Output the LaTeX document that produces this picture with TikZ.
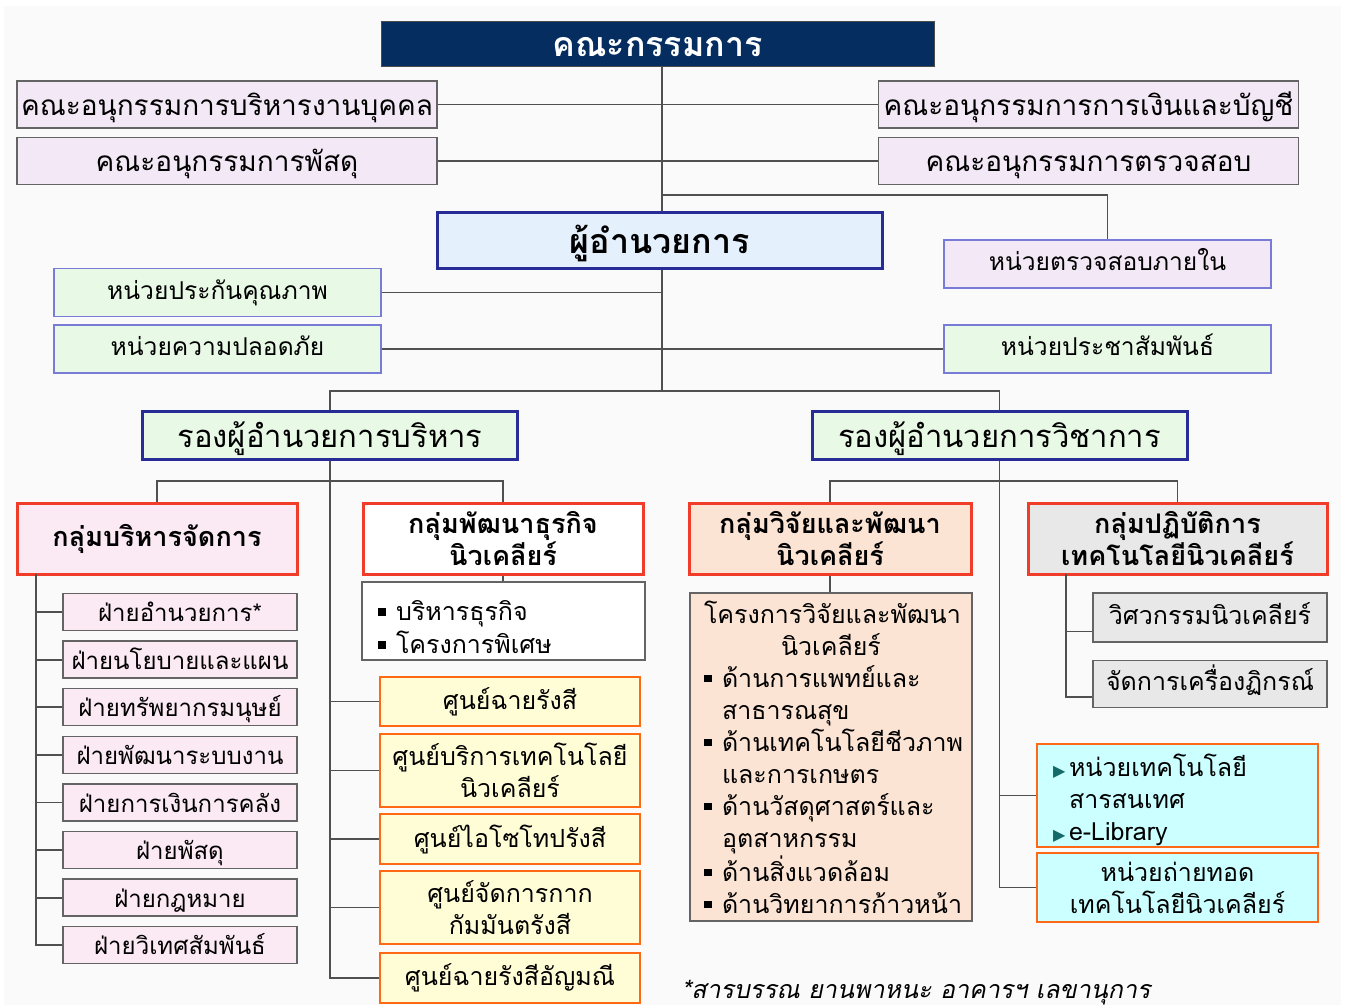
\documentclass[tikz,border=0pt]{standalone}
\usepackage{fontspec}
\setmainfont{Loma}[Script=Thai]
\newfontfamily\symfont{DejaVu Sans}
\newfontfamily\slantfont{Loma}[Script=Thai, FakeSlant=0.2]
\usepackage{tikz}
\usetikzlibrary{positioning}

\definecolor{navy}{RGB}{6,45,96}
\definecolor{panel}{RGB}{250,250,250}
\definecolor{linegray}{RGB}{80,80,80}
\definecolor{boxgray}{RGB}{100,100,100}
\definecolor{lavender}{RGB}{243,232,246}
\definecolor{skyfill}{RGB}{228,240,251}
\definecolor{depblue}{RGB}{40,44,150}
\definecolor{unitblue}{RGB}{120,124,214}
\definecolor{mint}{RGB}{232,249,230}
\definecolor{grpred}{RGB}{240,60,40}
\definecolor{pinkfill}{RGB}{251,233,243}
\definecolor{peach}{RGB}{252,228,212}
\definecolor{opsgray}{RGB}{232,232,232}
\definecolor{yellowfill}{RGB}{255,253,214}
\definecolor{orangeline}{RGB}{255,104,20}
\definecolor{cyanfill}{RGB}{204,255,255}
\definecolor{tealarrow}{RGB}{20,105,105}

\newcommand{\sqbullet}{\rule[.2em]{.3em}{.3em}}
\newcommand{\tribullet}{{\symfont\color{tealarrow}\fontsize{8}{8}\selectfont ▶}}
\newcommand{\bitem}[1]{\par\noindent\hangindent=9pt\hangafter=1\makebox[9pt][l]{\sqbullet}#1\par}
\newcommand{\titem}[1]{\par\noindent\hangindent=8pt\hangafter=1\makebox[8pt][l]{\tribullet}#1\par}

\begin{document}
\begin{tikzpicture}[x=0.5pt, y=-0.5pt,
  conn/.style={draw=linegray, line width=0.9pt},
  comm/.style={draw=boxgray, fill=lavender, line width=0.7pt, minimum width=210pt, minimum height=23.5pt, inner sep=0pt, text height=13.5pt, text depth=2.8pt, font=\fontsize{14}{16}\selectfont},
  unitbox/.style={draw=unitblue, line width=0.6pt, minimum width=163.5pt, minimum height=24pt, inner sep=0pt, text height=9.2pt, text depth=2.5pt, font=\fontsize{12.3}{15}\selectfont},
  deputy/.style={draw=depblue, fill=mint, line width=1.5pt, minimum width=187.5pt, minimum height=24pt, inner sep=0pt, text height=15.6pt, text depth=3.1pt, font=\fontsize{15.5}{17}\selectfont},
  grp/.style={draw=grpred, line width=1.5pt, minimum height=35.5pt, minimum width=140pt, inner sep=0pt, align=center, font=\fontsize{13.5}{16}\selectfont\bfseries},
  dept/.style={draw=boxgray, fill=pinkfill, line width=0.7pt, minimum width=117pt, minimum height=18.5pt, inner sep=0pt, text height=12pt, text depth=2.4pt, font=\fontsize{12}{14}\selectfont},
  centrebox/.style={draw=orangeline, fill=yellowfill, line width=1.3pt, minimum width=130pt, inner sep=0pt, align=center, font=\fontsize{12.5}{16}\selectfont},
  opsbox/.style={draw=boxgray, fill=opsgray, line width=0.7pt, minimum width=117pt, inner sep=0pt, text height=9.4pt, text depth=2.5pt, font=\fontsize{12.5}{15}\selectfont},
  cyanbox/.style={draw=orangeline, fill=cyanfill, line width=1.3pt, minimum width=140.5pt, inner sep=0pt, font=\fontsize{12.5}{16}\selectfont}]

  \useasboundingbox (0,0) rectangle (1346,1008);
  \fill[white] (0,0) rectangle (1346,1008);
  \fill[panel] (4,6) rectangle (1341,1005);

  \node[fill=navy, draw=black!70, minimum width=276.5pt, minimum height=22.5pt, inner sep=0pt, text height=16.75pt, text depth=3.4pt, text=white, font=\fontsize{17}{19}\selectfont\bfseries] (board) at (657.5,43.5) {คณะกรรมการ};

  \node[comm] (subL1) at (227,104.5) {คณะอนุกรรมการบริหารงานบุคคล};
  \node[comm] (subL2) at (227,161) {คณะอนุกรรมการพัสดุ};
  \node[comm] (subR1) at (1088.5,104.5) {คณะอนุกรรมการการเงินและบัญชี};
  \node[comm] (subR2) at (1088.5,161) {คณะอนุกรรมการตรวจสอบ};

  \node[draw=depblue, fill=skyfill, line width=1.5pt, minimum width=222.5pt, minimum height=28pt, inner sep=0pt, text height=16.75pt, text depth=3.4pt, font=\fontsize{17}{19}\selectfont\bfseries] (director) at (659.5,240) {ผู้อำนวยการ};

  \node[unitbox, fill=lavender] (audit) at (1107.5,264) {หน่วยตรวจสอบภายใน};
  \node[unitbox, fill=mint] (qa) at (217.5,292.5) {หน่วยประกันคุณภาพ};
  \node[unitbox, fill=mint] (safety) at (217.5,349) {หน่วยความปลอดภัย};
  \node[unitbox, fill=mint] (pr) at (1107.5,349) {หน่วยประชาสัมพันธ์};

  \node[deputy] (depAdm) at (330,435) {รองผู้อำนวยการบริหาร};
  \node[deputy] (depAca) at (999.5,435) {รองผู้อำนวยการวิชาการ};

  \node[grp, fill=pinkfill] (grpAdm) at (157,538.5) {กลุ่มบริหารจัดการ};
  \node[grp, fill=white] (grpBiz) at (503,538.5) {กลุ่มพัฒนาธุรกิจ\\นิวเคลียร์};
  \node[grp, fill=peach, minimum width=141pt] (grpRD) at (830,538.5) {กลุ่มวิจัยและพัฒนา\\นิวเคลียร์};
  \node[grp, fill=opsgray, minimum width=149.5pt] (grpOps) at (1177.5,538.5) {กลุ่มปฏิบัติการ\\เทคโนโลยีนิวเคลียร์};

  \node[dept] (d1) at (180,612) {ฝ่ายอำนวยการ*};
  \node[dept, below=4.6pt of d1] (d2) {ฝ่ายนโยบายและแผน};
  \node[dept, below=4.6pt of d2] (d3) {ฝ่ายทรัพยากรมนุษย์};
  \node[dept, below=4.6pt of d3] (d4) {ฝ่ายพัฒนาระบบงาน};
  \node[dept, below=4.6pt of d4] (d5) {ฝ่ายการเงินการคลัง};
  \node[dept, below=4.6pt of d5] (d6) {ฝ่ายพัสดุ};
  \node[dept, below=4.6pt of d6] (d7) {ฝ่ายกฎหมาย};
  \node[dept, below=4.6pt of d7] (d8) {ฝ่ายวิเทศสัมพันธ์};

  \node[draw=boxgray, fill=white, line width=0.7pt, minimum width=141.5pt, minimum height=39pt, inner xsep=8pt, inner ysep=0pt, text width=125.5pt, font=\fontsize{12.5}{16.5}\selectfont] (bizList) at (503.5,621) {\bitem{บริหารธุรกิจ}\bitem{โครงการพิเศษ}};

  \node[centrebox, minimum height=24.5pt] (c1) at (510,701.5) {ศูนย์ฉายรังสี};
  \node[centrebox, minimum height=36.5pt] (c2) at (510,770.5) {ศูนย์บริการเทคโนโลยี\\นิวเคลียร์};
  \node[centrebox, minimum height=25pt] (c3) at (510,839) {ศูนย์ไอโซโทปรังสี};
  \node[centrebox, minimum height=36.5pt] (c4) at (510,907.5) {ศูนย์จัดการกาก\\กัมมันตรังสี};
  \node[centrebox, minimum height=25pt] (c5) at (510,978) {ศูนย์ฉายรังสีอัญมณี};

  \node[draw=boxgray, fill=peach, line width=0.7pt, minimum width=141pt, minimum height=164pt, inner xsep=7pt, inner ysep=0pt, text width=127pt, font=\fontsize{12.5}{16}\selectfont] (rdList) at (831,757) {\centering โครงการวิจัยและพัฒนา\\นิวเคลียร์\par
    \raggedright
    \bitem{ด้านการแพทย์และ\newline สาธารณสุข}
    \bitem{ด้านเทคโนโลยีชีวภาพ\newline และการเกษตร}
    \bitem{ด้านวัสดุศาสตร์และ\newline อุตสาหกรรม}
    \bitem{ด้านสิ่งแวดล้อม}
    \bitem{ด้านวิทยาการก้าวหน้า}};

  \node[opsbox, minimum height=24.5pt] (o1) at (1210,617.5) {วิศวกรรมนิวเคลียร์};
  \node[opsbox, minimum height=23.5pt, below=8.5pt of o1] (o2) {จัดการเครื่องฏิกรณ์};

  \node[cyanbox, minimum height=51.5pt, inner xsep=8pt, text width=124.5pt] (cy1) at (1177.5,795.5) {\raggedright\titem{หน่วยเทคโนโลยี\newline สารสนเทศ}\titem{e-Library}};
  \node[cyanbox, minimum height=34.5pt, align=center] (cy2) at (1177.5,887.5) {หน่วยถ่ายทอด\\เทคโนโลยีนิวเคลียร์};

  \node[font=\fontsize{12.5}{15}\slantfont] (note) at (916,993) {*สารบรรณ ยานพาหนะ อาคารฯ เลขานุการ};

  \coordinate (hub) at (662,391);
  \coordinate (auditfork) at (662,195);
  \coordinate (admfork) at (330,481);
  \coordinate (acafork) at (999.5,481);
  \coordinate (deptspine) at (36,574);
  \coordinate (opsspine) at (1066,574);

  \draw[conn] (board.south -| hub) -- (director.north -| hub);
  \draw[conn] (director.south -| hub) -- (hub);
  \draw[conn] (subL1) -- (subR1);
  \draw[conn] (subL2) -- (subR2);
  \draw[conn] (auditfork) -| (audit.north);
  \draw[conn] (qa) -- (qa -| hub);
  \draw[conn] (safety) -- (pr);
  \draw[conn] (depAdm.north) |- (hub) -| (depAca.north);

  \draw[conn] (grpAdm.north) |- (admfork) -| (grpBiz.north);
  \draw[conn] (depAdm.south) -- (depAdm.south |- c5.west) -- (c5.west);
  \draw[conn] (c1.west) -- (c1.west -| depAdm.south);
  \draw[conn] (c2.west) -- (c2.west -| depAdm.south);
  \draw[conn] (c3.west) -- (c3.west -| depAdm.south);
  \draw[conn] (c4.west) -- (c4.west -| depAdm.south);
  \draw[conn] (grpBiz.south) -- (grpBiz.south |- bizList.north);

  \draw[conn] (deptspine) |- (d8.west);
  \draw[conn] (d1.west) -- (d1.west -| deptspine);
  \draw[conn] (d2.west) -- (d2.west -| deptspine);
  \draw[conn] (d3.west) -- (d3.west -| deptspine);
  \draw[conn] (d4.west) -- (d4.west -| deptspine);
  \draw[conn] (d5.west) -- (d5.west -| deptspine);
  \draw[conn] (d6.west) -- (d6.west -| deptspine);
  \draw[conn] (d7.west) -- (d7.west -| deptspine);

  \draw[conn] (grpRD.north) |- (acafork) -| (grpOps.north);
  \draw[conn] (depAca.south) -- (depAca.south |- cy2.west) -- (cy2.west);
  \draw[conn] (cy1.west) -- (cy1.west -| depAca.south);
  \draw[conn] (grpRD.south) -- (grpRD.south |- rdList.north);
  \draw[conn] (opsspine) |- ([yshift=-6.5pt]o2.west);
  \draw[conn] ([yshift=-7pt]o1.west) -- ([yshift=-7pt]o1.west -| opsspine);
\end{tikzpicture}
\end{document}
